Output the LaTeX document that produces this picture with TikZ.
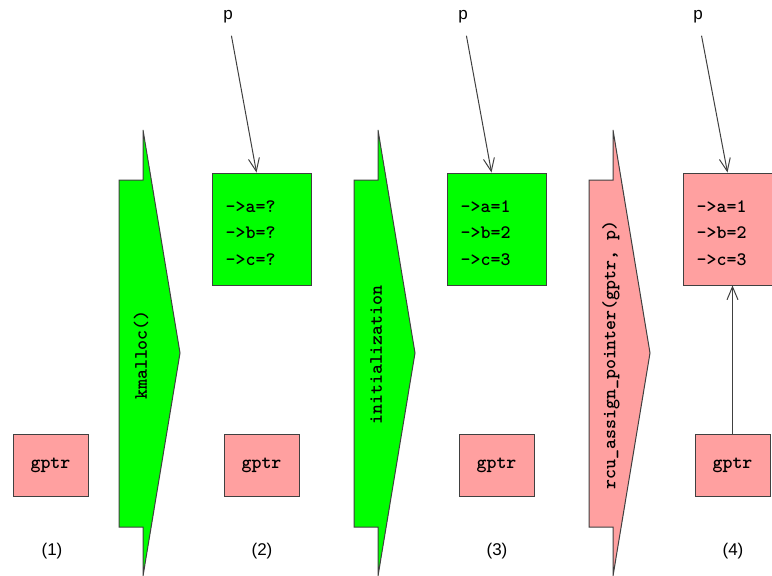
\documentclass[tikz,border=0pt]{standalone}
\usepackage{fontspec}
\setmainfont{Liberation Sans}
\usetikzlibrary{arrows.meta}

\definecolor{newgreen}{HTML}{00FF00}
\definecolor{oldpink}{HTML}{FFA0A0}
\definecolor{edgegray}{HTML}{404040}

\tikzset{
  line/.style={draw=edgegray, line width=1pt},
  ptrarrow/.style={line, -{Straight Barb[length=13pt,width=11pt]}},
  structbox/.style={line, minimum width=99pt, minimum height=112pt, inner sep=0pt},
  gptrbox/.style={line, fill=oldpink, minimum width=75pt, minimum height=62pt,
    font=\fontsize{19}{20}\selectfont\ttfamily\bfseries},
  fields/.style={align=left, inner sep=0pt, anchor=west,
    font=\fontsize{19}{26.5}\selectfont\ttfamily\bfseries},
  steplabel/.style={font=\fontsize{17}{20}\selectfont},
  opname/.style={rotate=90, font=\fontsize{19}{20}\selectfont\ttfamily\bfseries}
}

\begin{document}
\begin{tikzpicture}[x=1pt,y=-1pt]
\useasboundingbox (0,0) rectangle (772,576);

% the three operations, one fat arrow each
\foreach \x/\col/\op in {119/newgreen/kmalloc(), 354/newgreen/initialization,
                         589/oldpink/{rcu\_assign\_pointer(gptr, p)}} {
  \draw[line, fill=\col] (\x,180) -- (\x+24,180) -- (\x+24,130) -- (\x+61,353)
    -- (\x+24,576) -- (\x+24,527) -- (\x,527) -- cycle;
  \node[opname] at (\x+22,355) {\op};
}

% (1) only the global pointer
\node[gptrbox] (g1) at (50.5,465) {gptr};
\node[steplabel] (s1) at (52,551) {(1)};

% (2) freshly allocated structure
\node[gptrbox] (g2) at (261.5,465) {gptr};
\node[structbox, fill=newgreen] (b2) at (261.5,229) {};
\node[fields] at ([xshift=14pt,yshift=-4pt]b2.west) {->a=?\\->b=?\\->c=?};
\node[steplabel] (p2) at (228,17) {p};
\draw[ptrarrow, shorten <=9pt] (p2) -- ([xshift=-5pt]b2.north);
\node[steplabel] (s2) at (262,551) {(2)};

% (3) fields filled in
\node[gptrbox] (g3) at (496.5,465) {gptr};
\node[structbox, fill=newgreen] (b3) at (496.5,229) {};
\node[fields] at ([xshift=14pt,yshift=-4pt]b3.west) {->a=1\\->b=2\\->c=3};
\node[steplabel] (p3) at (463,17) {p};
\draw[ptrarrow, shorten <=9pt] (p3) -- ([xshift=-5pt]b3.north);
\node[steplabel] (s3) at (497,551) {(3)};

% (4) structure published through gptr
\node[gptrbox] (g4) at (732.5,465) {gptr};
\node[structbox, fill=oldpink] (b4) at (732.5,229) {};
\node[fields] at ([xshift=14pt,yshift=-4pt]b4.west) {->a=1\\->b=2\\->c=3};
\node[steplabel] (p4) at (698,17) {p};
\draw[ptrarrow, shorten <=9pt] (p4) -- ([xshift=-5pt]b4.north);
\draw[ptrarrow] (g4) -- (b4);
\node[steplabel] (s4) at (733,551) {(4)};
\end{tikzpicture}
\end{document}
